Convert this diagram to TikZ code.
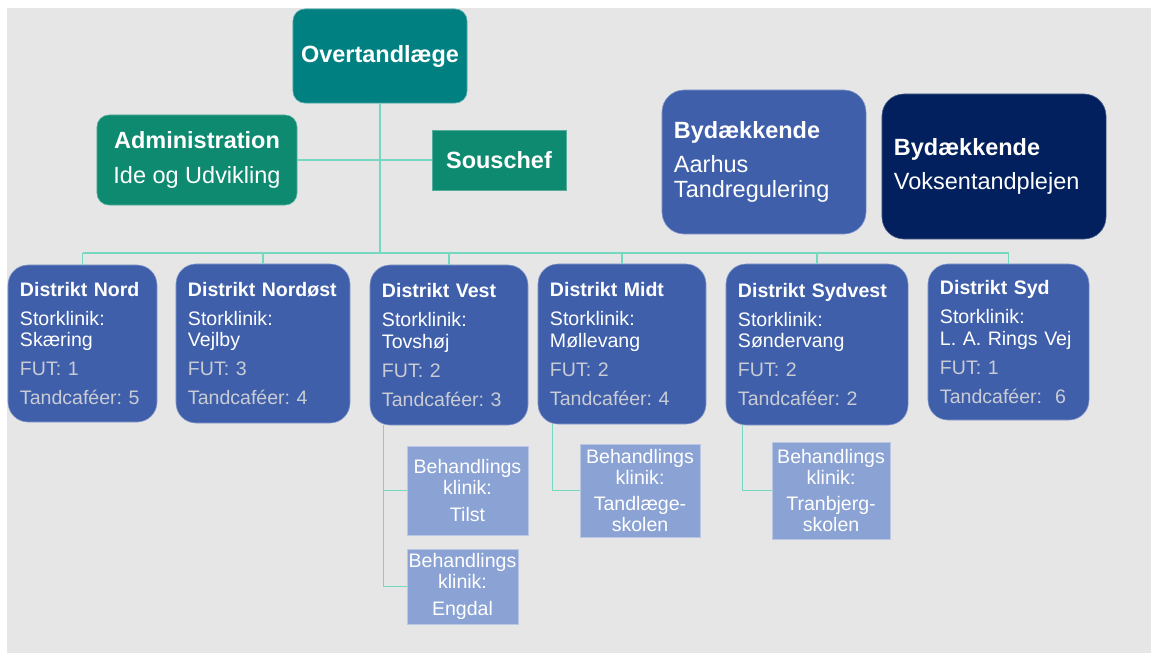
\documentclass[tikz,border=0pt]{standalone}
\usepackage{fontspec}
\setmainfont{Liberation Sans}
\frenchspacing
\definecolor{bgrey}{HTML}{E6E6E6}
\definecolor{chief}{HTML}{008080}
\definecolor{staff}{HTML}{0E8A70}
\definecolor{link}{HTML}{74D9C0}
\definecolor{distblue}{HTML}{3F5FAA}
\definecolor{navy}{HTML}{02205E}
\definecolor{clinic}{HTML}{8AA2D4}
\definecolor{futgrey}{HTML}{C9CCD4}
\newcommand{\fut}[1]{\textcolor{futgrey}{#1}}
\begin{document}
\begin{tikzpicture}[x=0.025cm,y=-0.025cm]
			\tikzstyle{big} = [text=white, font=\fontsize{16.7}{17.8}\selectfont, inner sep=0pt]
			\tikzstyle{lead} = [big, fill=chief, rounded corners=0.3cm, draw=chief!70!white, thin]
			\tikzstyle{staffbox} = [big, fill=staff, draw=staff!70!white, thin, align=center]
			\tikzstyle{d} = [fill=distblue, draw=distblue!60!white, thin, rounded corners=0.5cm, text=white, align=left, inner xsep=0.3cm, inner ysep=0pt, font=\fontsize{13.9}{15.6}\selectfont]
			\tikzstyle{b} = [fill=clinic, draw=clinic!60!white, thin, text=white, align=center, inner sep=1pt, font=\fontsize{13.9}{14.8}\selectfont]
			\tikzstyle{conn} = [link, line width=0.8pt]
			\useasboundingbox (0,0) rectangle (1151,653);
			\fill [bgrey] (7,8) rectangle (1151,653);

			\node [lead, minimum width=4.35cm, minimum height=2.35cm] (over) at (380,56) {\textbf{Overtandlæge}};
			\node [staffbox, rounded corners=0.3cm, minimum width=5cm, minimum height=2.25cm] (admin) at (197,160) {\textbf{Administration}\\[7pt]Ide og Udvikling};
			\node [staffbox, minimum width=3.35cm, minimum height=1.5cm] (sous) at (499,160) {\textbf{Souschef}};
			\node [big, fill=distblue, draw=distblue!60!white, thin, rounded corners=0.55cm, align=left, text width=4.5cm, minimum width=5.1cm, minimum height=3.6cm] (ortho) at (764,162) {\textbf{Bydækkende}\\[6pt]Aarhus\\Tandregulering};
			\node [big, fill=navy, draw=navy!70!white, thin, rounded corners=0.55cm, align=left, text width=5cm, minimum width=5.6cm, minimum height=3.625cm] (adult) at (994,166.5) {\textbf{Bydækkende}\\[6pt]Voksentandplejen};

			\node [d, text width=3.125cm, minimum width=3.725cm, minimum height=3.925cm] (nord) at (82.5,343.5) {\textbf{Distrikt~Nord}\\[5pt]Storklinik:\\Skæring\\[5pt]\fut{FUT: 1}\\[5pt]\fut{Tandcaféer: 5}};
			\node [d, text width=3.75cm, minimum width=4.35cm, minimum height=3.975cm] (nordost) at (263,343.5) {\textbf{Distrikt~Nordøst}\\[5pt]Storklinik:\\Vejlby\\[5pt]\fut{FUT: 3}\\[5pt]\fut{Tandcaféer: 4}};
			\node [d, text width=3.35cm, minimum width=3.95cm, minimum height=4cm] (vest) at (449,345) {\textbf{Distrikt~Vest}\\[5pt]Storklinik:\\Tovshøj\\[5pt]\fut{FUT: 2}\\[5pt]\fut{Tandcaféer: 3}};
			\node [d, text width=3.6cm, minimum width=4.2cm, minimum height=4cm] (midt) at (622,344) {\textbf{Distrikt~Midt}\\[5pt]Storklinik:\\Møllevang\\[5pt]\fut{FUT: 2}\\[5pt]\fut{Tandcaféer: 4}};
			\node [d, text width=3.95cm, minimum width=4.55cm, minimum height=4.025cm] (sydvest) at (817,344.5) {\textbf{Distrikt~Sydvest}\\[5pt]Storklinik:\\Søndervang\\[5pt]\fut{FUT: 2}\\[5pt]\fut{Tandcaféer: 2}};
			\node [d, text width=3.425cm, minimum width=4.025cm, minimum height=3.9cm] (syd) at (1008.5,342) {\textbf{Distrikt~Syd}\\[5pt]Storklinik:\\L. A. Rings Vej\\[5pt]\fut{FUT: 1}\\[5pt]\fut{Tandcaféer:~~6}};

			\node [b, minimum width=3.025cm, minimum height=2.225cm] (tilst) at (467.5,490.5) {Behandlings\\klinik:\\[4pt]Tilst};
			\node [b, minimum width=2.775cm, minimum height=1.875cm] (engdal) at (462.5,586.5) {Behandlings\\klinik:\\[4pt]Engdal};
			\node [b, minimum width=3cm, minimum height=2.325cm] (skole) at (640,490.5) {Behandlings\\klinik:\\[4pt]Tandlæge-\\skolen};
			\node [b, minimum width=2.95cm, minimum height=2.425cm] (tranbjerg) at (831,490.5) {Behandlings\\klinik:\\[4pt]Tranbjerg-\\skolen};

			\coordinate (bus) at (380,253);
			\draw [conn] (over) -- (bus);
			\draw [conn] (admin) -- (sous);
			\draw [conn] (bus -| nord.north) -- (bus -| syd.north);
			\foreach \t in {nord,nordost,vest,midt,sydvest,syd}
				\draw [conn] (bus -| \t.north) -- (\t.north);

			\draw [conn] ([xshift=0.35cm]vest.south west) |- (tilst.west);
			\draw [conn] ([xshift=0.35cm]vest.south west) |- (engdal.west);
			\draw [conn] ([xshift=0.375cm]midt.south west) |- (skole.west);
			\draw [conn] ([xshift=0.425cm]sydvest.south west) |- (tranbjerg.west);
		\end{tikzpicture}
\end{document}
